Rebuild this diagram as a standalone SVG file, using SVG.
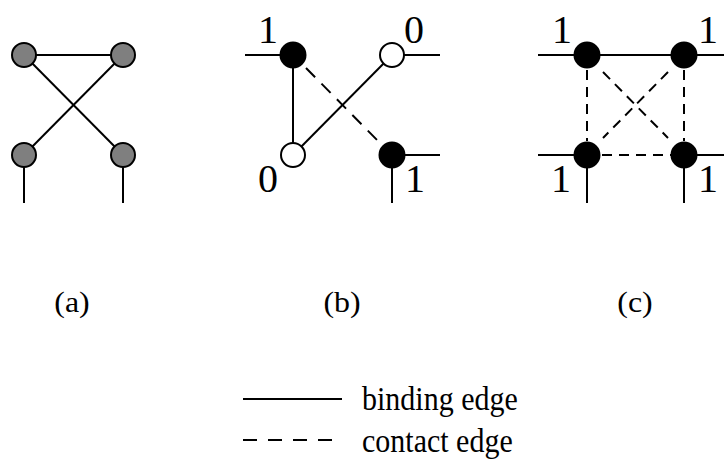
<svg xmlns="http://www.w3.org/2000/svg" width="724" height="461" viewBox="0 0 724 461">
<style>
.e{stroke:#000;stroke-width:2;fill:none}
.d{stroke:#000;stroke-width:2;fill:none;stroke-dasharray:10 7}
.n{stroke:#000;stroke-width:2}
.g{fill:#7f7f7f}
.w{fill:#fff}
.b{fill:#000}
text{font-family:"Liberation Serif","Times New Roman",serif;fill:#000}
.num{font-size:40px;text-anchor:middle}
.cap{font-size:29px;text-anchor:middle}
.leg{font-size:30px}
</style>
<rect width="724" height="461" fill="#fff"/>
<g id="connectors">
<line class="e" x1="24" y1="55" x2="123" y2="55"/>
<line class="e" x1="24" y1="55" x2="123" y2="155"/>
<line class="e" x1="123" y1="55" x2="24" y2="155"/>
<line class="e" x1="24" y1="155" x2="24" y2="203"/>
<line class="e" x1="123" y1="155" x2="123" y2="203"/>
<line class="e" x1="245" y1="55" x2="293" y2="55"/>
<line class="e" x1="392" y1="55" x2="440" y2="55"/>
<line class="e" x1="293" y1="55" x2="293" y2="155"/>
<line class="e" x1="293" y1="155" x2="392" y2="55"/>
<line class="e" style="stroke-dasharray:13 9" x1="306" y1="68" x2="379" y2="142"/>
<line class="e" x1="392" y1="155" x2="440" y2="155"/>
<line class="e" x1="392" y1="155" x2="392" y2="203"/>
<line class="e" x1="538" y1="55" x2="724" y2="55"/>
<line class="e" x1="538" y1="155" x2="587" y2="155"/>
<line class="e" x1="684" y1="155" x2="724" y2="155"/>
<line class="d" x1="602" y1="155" x2="671" y2="155"/>
<line class="d" x1="587" y1="70" x2="587" y2="141"/>
<line class="d" x1="684" y1="70" x2="684" y2="141"/>
<line class="d" x1="603" y1="72" x2="668" y2="138"/>
<line class="d" x1="668" y1="72" x2="603" y2="138"/>
<line class="e" x1="587" y1="155" x2="587" y2="203"/>
<line class="e" x1="684" y1="155" x2="684" y2="203"/>
</g>
<g id="a-n1"><circle class="n g" cx="24" cy="55" r="12"/></g>
<g id="a-n2"><circle class="n g" cx="123" cy="55" r="12"/></g>
<g id="a-n3"><circle class="n g" cx="24" cy="155" r="12"/></g>
<g id="a-n4"><circle class="n g" cx="123" cy="155" r="12"/></g>
<g id="b-n1"><circle class="n b" cx="293" cy="55" r="12.5"/><text class="num" x="268" y="43">1</text></g>
<g id="b-n2"><circle class="n w" cx="392" cy="55" r="12"/><text class="num" x="414" y="43">0</text></g>
<g id="b-n3"><circle class="n w" cx="293" cy="155" r="12"/><text class="num" x="268" y="192">0</text></g>
<g id="b-n4"><circle class="n b" cx="392" cy="155" r="12.5"/><text class="num" x="415" y="192">1</text></g>
<g id="c-n1"><circle class="n b" cx="587" cy="55" r="12.5"/><text class="num" x="562" y="43">1</text></g>
<g id="c-n2"><circle class="n b" cx="684" cy="55" r="12.5"/><text class="num" x="708" y="43">1</text></g>
<g id="c-n3"><circle class="n b" cx="587" cy="155" r="12.5"/><text class="num" x="561" y="192">1</text></g>
<g id="c-n4"><circle class="n b" cx="684" cy="155" r="12.5"/><text class="num" x="708" y="192">1</text></g>
<g id="captions">
<text class="cap" transform="translate(72 312) scale(1.1 1)">(a)</text>
<text class="cap" transform="translate(342 312) scale(1.1 1)">(b)</text>
<text class="cap" transform="translate(635 312) scale(1.1 1)">(c)</text>
</g>
<g id="legend">
<line class="e" x1="243" y1="399" x2="342" y2="399"/>
<line class="e" style="stroke-dasharray:14 11" x1="243" y1="440" x2="332" y2="440"/>
<text class="leg" transform="translate(362 410) scale(1 1.12)">binding edge</text>
<text class="leg" transform="translate(362 452) scale(1 1.12)">contact edge</text>
</g>
</svg>
